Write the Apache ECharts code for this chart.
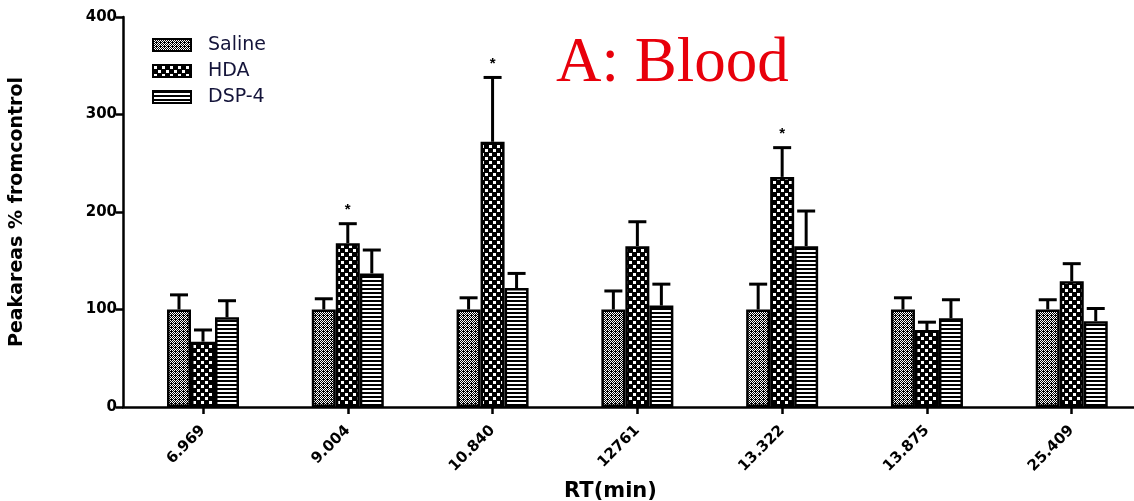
<!DOCTYPE html>
<html>
<head>
<meta charset="utf-8">
<script src="https://cdn.jsdelivr.net/npm/echarts@6/dist/echarts.min.js"></script>
<style>
  html, body { margin: 0; padding: 0; background: #fff; }
  #main { width: 1134px; height: 501px; }
</style>
</head>
<body>
<div id="main"></div>
<script>
// retention times (categories)
var rtLabels = ['6.969', '9.004', '10.840', '12761', '13.322', '13.875', '25.409'];
var rtIndex = [0, 1, 2, 3, 4, 5, 6];
var seriesNames = ['Saline', 'HDA', 'DSP-4'];

// mean values (% from control)
var salineMean = [100, 100, 100, 100, 100, 100, 100];
var hdaMean = [67, 168, 272, 165, 236, 79, 129];
var dspMean = [92, 137, 122, 104, 165, 91, 88];

// top of error bar (mean + SEM)
var salineTop = [115, 111, 112, 119, 126, 112, 110];
var hdaTop = [79, 188, 338, 190, 266, 87, 147];
var dspTop = [109, 161, 137, 126, 201, 110, 101];

// significance stars on HDA
var hdaStar = [0, 1, 1, 0, 1, 0, 0];

var yTicks = [0, 100, 200, 300, 400];

function makePattern(w, h, draw) {
  var c = document.createElement('canvas');
  c.width = w; c.height = h;
  var ctx = c.getContext('2d');
  ctx.fillStyle = '#000';
  ctx.fillRect(0, 0, w, h);
  ctx.fillStyle = '#fff';
  draw(ctx);
  return { image: c, repeat: 'repeat' };
}

var salinePat = makePattern(4, 4, function (ctx) {
  ctx.fillRect(0, 0, 1, 1); ctx.fillRect(2, 0, 1, 1);
  ctx.fillRect(1, 1, 1, 1); ctx.fillRect(3, 1, 1, 1);
  ctx.fillRect(0, 2, 1, 1); ctx.fillRect(2, 2, 1, 1);
  ctx.fillRect(1, 3, 1, 1);
});
var hdaPat = makePattern(8, 8, function (ctx) {
  ctx.fillRect(1, 1, 3, 3);
  ctx.fillRect(5, 5, 3, 3);
});
var dspPat = makePattern(4, 4, function (ctx) {
  ctx.fillRect(0, 2, 4, 2);
});

var barW = 24;

function barSeries(name, values, pat) {
  return {
    name: name,
    type: 'bar',
    data: values.map(function (v, i) { return [rtIndex[i], v]; }),
    barWidth: barW,
    barGap: '0%',
    itemStyle: { color: pat, borderColor: '#000', borderWidth: 2.5 },
    z: 2
  };
}

function errSeries(means, tops, stars, offset) {
  var data = means.map(function (m, i) { return [rtIndex[i], m, tops[i], stars ? stars[i] : 0]; });
  return {
    type: 'custom',
    z: 5,
    silent: true,
    data: data,
    renderItem: function (params, api) {
      var i = api.value(0);
      var base = api.coord([i, api.value(1)]);
      var top = api.coord([i, api.value(2)]);
      var cx = base[0] + offset;
      var children = [
        { type: 'line', shape: { x1: cx, y1: base[1], x2: cx, y2: top[1] },
          style: { stroke: '#000', lineWidth: 3 } },
        { type: 'line', shape: { x1: cx - 9, y1: top[1], x2: cx + 9, y2: top[1] },
          style: { stroke: '#000', lineWidth: 3 } }
      ];
      if (api.value(3)) {
        children.push({ type: 'text', style: { x: cx, y: top[1] - 6, text: '*',
          fill: '#000', font: 'bold 15px "Liberation Sans"', align: 'center', verticalAlign: 'bottom' } });
      }
      return { type: 'group', children: children };
    }
  };
}

var chart = echarts.init(document.getElementById('main'));
chart.setOption({
  animation: false,
  backgroundColor: '#fff',
  textStyle: { fontFamily: 'DejaVu Sans' },
  title: {
    text: 'A: Blood',
    left: 551,
    top: 28,
    textStyle: { color: '#e8000b', fontFamily: 'Liberation Serif', fontSize: 63, fontWeight: 'normal' }
  },
  legend: {
    data: seriesNames,
    orient: 'vertical',
    left: 147,
    top: 30,
    icon: 'rect',
    itemWidth: 38,
    itemHeight: 12,
    itemGap: 6,
    itemStyle: { borderColor: '#000', borderWidth: 2 },
    textStyle: { fontSize: 19, lineHeight: 20, color: '#14143a', fontFamily: 'DejaVu Sans', padding: [0, 0, 0, 12] }
  },
  grid: { left: 123, right: 0, top: 17, bottom: 94, outerBoundsMode: 'none', containLabel: false },
  xAxis: {
    type: 'value',
    min: -0.5525,
    max: 6.43,
    name: 'RT(min)',
    nameLocation: 'middle',
    nameGap: 73,
    nameTextStyle: { fontSize: 21, fontWeight: 'bold', color: '#000', fontFamily: 'DejaVu Sans', padding: [0, 36, 0, 0] },
    axisLine: { show: true, onZero: false, lineStyle: { color: '#000', width: 2.5 } },
    axisTick: { show: true, customValues: rtIndex, length: 7, lineStyle: { color: '#000', width: 2.5 } },
    axisLabel: {
      customValues: rtIndex,
      formatter: function (v) { return rtLabels[Math.round(v)]; },
      rotate: 45, fontSize: 15, fontWeight: 'bold', color: '#000', margin: 21
    },
    splitLine: { show: false }
  },
  yAxis: {
    type: 'value',
    min: yTicks[0],
    max: yTicks[yTicks.length - 1],
    interval: 100,
    name: 'Peakareas % fromcontrol',
    nameLocation: 'middle',
    nameGap: 96,
    nameTextStyle: { fontSize: 19, fontWeight: 'bold', color: '#000', fontFamily: 'DejaVu Sans' },
    axisLine: { show: true, onZero: false, lineStyle: { color: '#000', width: 2.5 } },
    axisTick: { show: true, length: 7, lineStyle: { color: '#000', width: 2.5 } },
    axisLabel: { fontSize: 15, fontWeight: 'bold', color: '#000', margin: 6 },
    splitLine: { show: false }
  },
  series: [
    barSeries('Saline', salineMean, salinePat),
    barSeries('HDA', hdaMean, hdaPat),
    barSeries('DSP-4', dspMean, dspPat),
    errSeries(salineMean, salineTop, null, -barW),
    errSeries(hdaMean, hdaTop, hdaStar, 0),
    errSeries(dspMean, dspTop, null, barW)
  ]
});
</script>
</body>
</html>
